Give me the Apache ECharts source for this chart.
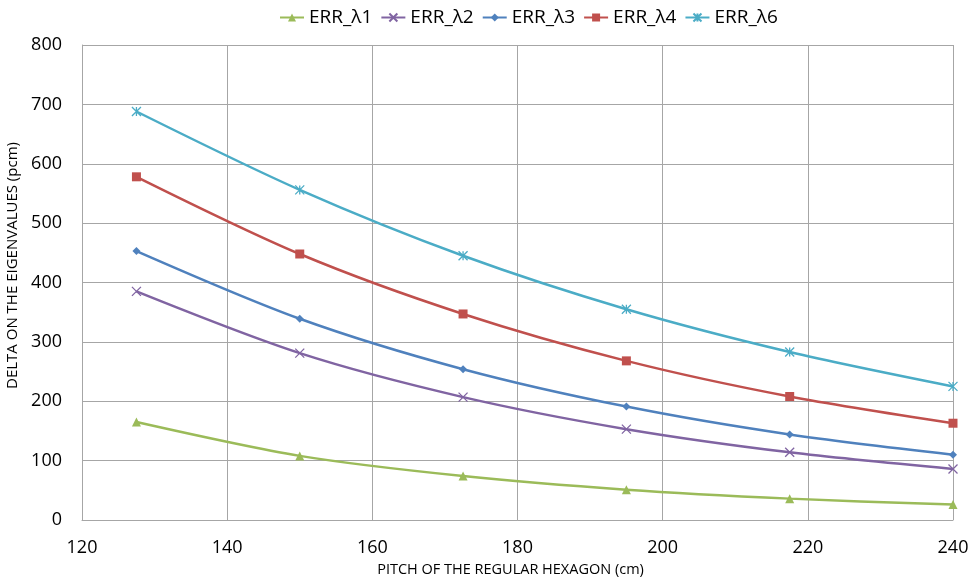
<!DOCTYPE html>
<html><head><meta charset="utf-8">
<script src="https://cdn.jsdelivr.net/npm/echarts@6/dist/echarts.min.js"></script>
<style>html,body{margin:0;padding:0;background:#fff}#c{width:971px;height:577px}</style>
</head><body><div id="c"></div>
<script>
const pitch = [127.5, 150, 172.5, 195, 217.5, 240];
const err1 = [165, 108, 74, 51, 36, 26];
const err2 = [385, 281, 207, 153, 114, 86];
const err3 = [453, 339, 254, 191, 144, 110];
const err4 = [578, 448, 347, 268, 208, 163];
const err6 = [688, 556, 445, 355, 283, 225];
const names = ['ERR_λ1','ERR_λ2','ERR_λ3','ERR_λ4','ERR_λ6'];
const colors = ['#9BBB59','#8064A2','#4F81BD','#C0504D','#4BACC6'];
const symbols = [
  'triangle',
  'path://M0,0L10,10M10,0L0,10',
  'diamond',
  'rect',
  'path://M0,0L10,10M10,0L0,10M5,0L5,10'
];
const sizes = [9, 9, 8, 9, 9];
const all = [err1, err2, err3, err4, err6];
const font = '"Open Sans", "Liberation Sans", sans-serif';
const series = all.map((vals, i) => {
  const stroke = symbols[i].startsWith('path');
  return {
    name: names[i], type: 'line', smooth: 0.3,
    data: pitch.map((p, k) => [p, vals[k]]),
    symbol: symbols[i], symbolSize: sizes[i],
    lineStyle: {color: colors[i], width: 2.5},
    itemStyle: stroke ? {color: 'rgba(0,0,0,0)', borderColor: colors[i], borderWidth: 1.3} : {color: colors[i]},
    emphasis: {disabled: true}
  };
});
const chart = echarts.init(document.getElementById('c'), null, {renderer: 'canvas'});
chart.setOption({
  animation: false,
  textStyle: {fontFamily: font},
  legend: {
    top: 3, left: 274, itemWidth: 24, itemHeight: 10, itemGap: 8,
    textStyle: {fontSize: 19, color: '#000', fontFamily: font},
    data: names
  },
  grid: {left: 82, right: 18, top: 45, bottom: 57, containLabel: false, outerBoundsMode: 'none'},
  xAxis: {
    type: 'value', min: 120, max: 240, interval: 20,
    name: 'PITCH OF THE REGULAR HEXAGON (cm)', nameLocation: 'middle', nameGap: 40,
    nameTextStyle: {fontSize: 14.5, color: '#000', fontFamily: font, padding: [0, 14, 0, 0]},
    axisLine: {show: true, lineStyle: {color: '#A6A6A6', width: 1}},
    axisTick: {show: false},
    axisLabel: {fontSize: 18, color: '#000', margin: 19, fontFamily: font},
    splitLine: {show: true, lineStyle: {color: '#A6A6A6', width: 1}}
  },
  yAxis: {
    type: 'value', min: 0, max: 800, interval: 100,
    name: 'DELTA ON THE EIGENVALUES (pcm)', nameLocation: 'middle', nameGap: 55,
    nameTextStyle: {fontSize: 15, color: '#000', fontFamily: font, padding: [0, 0, 0, 34]},
    axisLine: {show: true, lineStyle: {color: '#A6A6A6', width: 1}},
    axisTick: {show: false},
    axisLabel: {fontSize: 18, color: '#000', margin: 20, fontFamily: font},
    splitLine: {show: true, lineStyle: {color: '#A6A6A6', width: 1}}
  },
  series: series
});
</script></body></html>
